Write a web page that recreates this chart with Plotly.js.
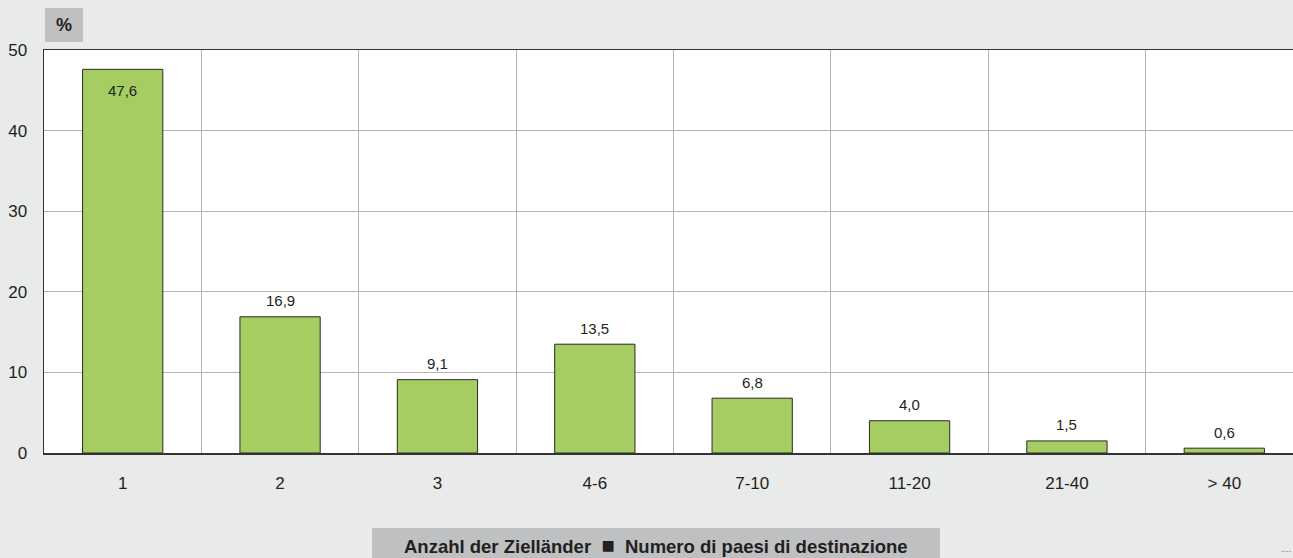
<!DOCTYPE html>
<html>
<head>
<meta charset="utf-8">
<script src="https://cdn.plot.ly/plotly-3.0.1.min.js"></script>
<style>
html,body{margin:0;padding:0;overflow:hidden;background:#e9ebea;}
#chart{width:1305px;height:558px;}
</style>
</head>
<body>
<div id="chart"></div>
<script>
const categories = ["1", "2", "3", "4-6", "7-10", "11-20", "21-40", "> 40"];
const values = [47.6, 16.9, 9.1, 13.5, 6.8, 4.0, 1.5, 0.6];
const yTicks = [0, 10, 20, 30, 40, 50];
const unitLabel = "%";
const legendLeft = "Anzahl der Zielländer";
const legendRight = "Numero di paesi di destinazione";

const fmt = v => v.toFixed(1).replace(".", ",");
const FONT = "'Liberation Sans', Arial, sans-serif";

const labelAnnotations = values.map((v, i) => ({
  x: i, y: v, xref: "x", yref: "y",
  text: fmt(v), showarrow: false,
  yanchor: "middle",
  yshift: i === 0 ? -21 : 16,
  font: {family: FONT, size: 15, color: "#231f20"}
}));

const trace = {
  type: "bar",
  x: categories,
  y: values,
  width: 0.51,
  marker: {color: "#a5cd61", line: {color: "#2a2a2a", width: 1}},
  hoverinfo: "x+y"
};

const layout = {
  width: 1305, height: 558,
  paper_bgcolor: "#e9ebea",
  plot_bgcolor: "#ffffff",
  margin: {l: 44, r: 2, t: 50, b: 105},
  showlegend: false,
  font: {family: FONT, color: "#231f20"},
  xaxis: {
    type: "category",
    tickson: "boundaries",
    showgrid: true, gridcolor: "#b3b3b3", gridwidth: 1,
    ticks: "", ticklabelstandoff: 14,
    showline: true, linecolor: "#333333", linewidth: 1.5, mirror: true,
    tickfont: {family: FONT, size: 17, color: "#231f20"},
    fixedrange: true
  },
  yaxis: {
    range: [0, 50],
    tickvals: yTicks,
    showgrid: true, gridcolor: "#b3b3b3", gridwidth: 1,
    zeroline: false,
    ticks: "", ticklabelstandoff: 12,
    showline: true, linecolor: "#333333", linewidth: 1.5, mirror: true,
    tickfont: {family: FONT, size: 17, color: "#231f20"},
    fixedrange: true
  },
  shapes: [
    {type: "rect", xref: "paper", yref: "paper",
     x0: 1/1259, x1: 39/1259, y0: (403+8)/403, y1: (403+42)/403,
     fillcolor: "#bfc0c2", line: {width: 0}, layer: "below"},
    {type: "rect", xref: "paper", yref: "paper",
     x0: (372-44)/1259, x1: (940-44)/1259, y0: -(600-453)/403, y1: -(528-453)/403,
     fillcolor: "#bfc0c2", line: {width: 0}, layer: "below"}
  ],
  annotations: labelAnnotations.concat([
    {xref: "paper", yref: "paper", x: 20/1259, y: (403+25)/403,
     text: "<b>" + unitLabel + "</b>", showarrow: false, xanchor: "center", yanchor: "middle",
     font: {family: FONT, size: 18, color: "#231f20"}},
    {xref: "paper", yref: "paper", x: (656-44)/1259, y: -(545-453)/403,
     text: "<b>" + legendLeft + "&nbsp;&nbsp;<span style='font-size:22px'>\u25A0</span>&nbsp;&nbsp;" + legendRight + "</b>",
     showarrow: false, xanchor: "center", yanchor: "middle",
     font: {family: FONT, size: 18.5, color: "#231f20"}},
    {xref: "paper", yref: "paper", x: (1286-44)/1259, y: -(549-453)/403,
     text: "....", showarrow: false, xanchor: "center", yanchor: "middle",
     font: {family: FONT, size: 9, color: "#666666"}}
  ])
};

Plotly.newPlot("chart", [trace], layout, {displayModeBar: false, staticPlot: true});
</script>
</body>
</html>
